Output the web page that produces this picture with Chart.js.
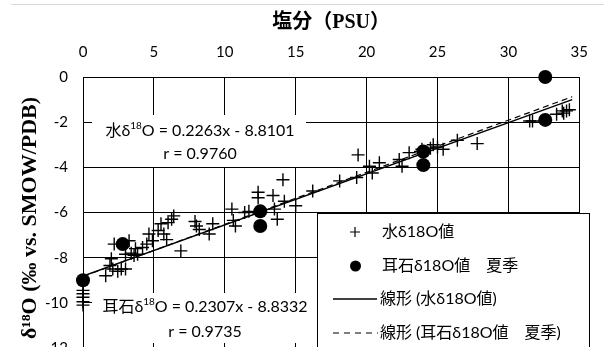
<!DOCTYPE html>
<html><head><meta charset="utf-8">
<script src="https://cdn.jsdelivr.net/npm/chart.js@4/dist/chart.umd.min.js"></script>
<style>
html,body{margin:0;padding:0;background:#fff;overflow:hidden;width:604px;height:347px}
#wrap{position:relative;width:604px;height:372px}
</style></head>
<body><div id="wrap"><canvas id="c" width="604" height="372"></canvas></div>
<script>
// ---- data ----
const waterSalinity = [0,0,0,0,0,
  1.6,1.9,2.0,2.1,2.2,2.45,2.7,3.0,3.25,3.0,3.4,3.6,3.85,3.7,4.2,4.5,4.65,4.9,5.3,5.5,5.7,5.9,6.0,6.25,6.4,6.9,
  7.9,8.0,8.2,8.9,9.15,10.5,10.6,10.75,11.4,11.7,12.35,12.35,13.4,13.5,13.7,14.1,14.2,15.0,16.2,
  18.1,19.3,19.4,20.2,20.4,20.9,22.3,22.5,23.0,23.8,23.9,24.5,24.7,25.0,25.4,26.4,27.8,
  31.5,31.7,33.4,33.8,34.1,34.3,33.9];
const waterD18O = [-9.45,-9.6,-9.75,-9.95,-10.1,
  -8.8,-8.35,-8.05,-8.5,-7.4,-8.6,-8.5,-8.5,-7.25,-7.85,-7.8,-7.9,-7.85,-7.6,-7.55,-7.4,-6.95,-7.25,-6.8,-6.5,-6.95,-7.2,-6.45,-6.3,-6.15,-7.7,
  -6.4,-6.6,-6.75,-6.95,-6.5,-5.85,-6.35,-6.6,-6.0,-5.95,-5.1,-5.35,-5.25,-5.85,-6.3,-4.55,-5.5,-5.7,-5.05,
  -4.6,-4.45,-3.45,-3.95,-4.25,-3.8,-3.65,-3.95,-3.35,-3.3,-3.2,-3.15,-3.0,-3.1,-3.2,-2.8,-2.95,
  -1.95,-1.95,-1.65,-1.5,-1.5,-1.45,-1.6];
const otolithSalinity = [0, 2.8, 12.5, 12.5, 24.0, 24.0, 32.6, 32.6];
const otolithD18O = [-9.0, -7.4, -5.95, -6.6, -3.3, -3.9, 0.0, -1.9];
const xTickValues = [0,5,10,15,20,25,30,35];
const yTickValues = [0,-2,-4,-6,-8,-10,-12];
const seriesNames = ['水δ18O値', '耳石δ18O値　夏季'];
const trendNames = ['線形 (水δ18O値)', '線形 (耳石δ18O値　夏季)'];
const trendPrefix = ['水', '耳石'];
const trendSlope = [0.2263, 0.2307];
const trendIntercept = [-8.8101, -8.8332];
const trendR = [0.9760, 0.9735];
const trendRange = [0, 34.5];
const xTitle = '塩分（PSU）';
const yTitle = 'δ¹⁸O (‰ vs. SMOW/PDB)';

const SANS = "Lato, 'Noto Sans CJK JP', sans-serif";
const SERIF = "'Liberation Serif', 'DejaVu Serif', 'Noto Sans CJK JP', serif";

const water = waterSalinity.map((x,i)=>({x, y: waterD18O[i]}));
const otolith = otolithSalinity.map((x,i)=>({x, y: otolithD18O[i]}));
const trendLine = k => trendRange.map(x=>({x, y: trendSlope[k]*x + trendIntercept[k]}));

function drawRich(ctx, parts, cx, cy, size) {
  const f = `${size}px ${SANS}`, fs = `${Math.round(size*0.62)}px ${SANS}`;
  let w = 0;
  parts.forEach(p => { ctx.font = p.sup ? fs : f; w += ctx.measureText(p.t).width; });
  let x = cx - w/2;
  ctx.textAlign = 'left'; ctx.textBaseline = 'middle'; ctx.fillStyle = '#000';
  parts.forEach(p => { ctx.font = p.sup ? fs : f; ctx.fillText(p.t, x, p.sup ? cy - size*0.3 : cy); x += ctx.measureText(p.t).width; });
}

const overlay = {
  id: 'overlay',
  beforeDraw(chart) {
    const ctx = chart.ctx;
    ctx.save();
    ctx.strokeStyle = '#d9d9d9'; ctx.lineWidth = 1;
    ctx.beginPath(); ctx.moveTo(11, 4.5); ctx.lineTo(604, 4.5); ctx.stroke();
    ctx.restore();
  },
  afterDatasetsDraw(chart) {
    const ctx = chart.ctx;
    ctx.save();
    // y axis title
    ctx.translate(30, 218);
    ctx.rotate(-Math.PI/2);
    ctx.font = `bold 22px ${SERIF}`; ctx.fillStyle = '#000';
    ctx.textAlign = 'center'; ctx.textBaseline = 'middle';
    ctx.fillText(yTitle, 0, 0);
    ctx.restore();
    ctx.save();
    // regression labels
    const boxes = [
      {x1:92, y1:115, x2:306, y2:167, cx:200, cy1:131, cy2:154},
      {x1:92, y1:293, x2:318, y2:343, cx:205, cy1:307, cy2:332}
    ];
    boxes.forEach((b,k) => {
      ctx.fillStyle = '#fff';
      ctx.fillRect(b.x1, b.y1, b.x2-b.x1, b.y2-b.y1);
      const eq = `O = ${trendSlope[k].toFixed(4)}x - ${Math.abs(trendIntercept[k]).toFixed(4)}`;
      drawRich(ctx, [{t: trendPrefix[k] + 'δ'}, {t:'18', sup:true}, {t: eq}], b.cx, b.cy1, 16);
      drawRich(ctx, [{t: `r = ${trendR[k].toFixed(4)}`}], b.cx, b.cy2, 16);
    });
    // legend
    const L = 317.5, T = 213.5, R = 589.5, B = 400;
    ctx.fillStyle = '#fff';
    ctx.fillRect(L, T, R-L, B-T);
    ctx.strokeStyle = '#000'; ctx.lineWidth = 1;
    ctx.strokeRect(L, T, R-L, B-T);
    const rows = [232, 266, 299, 333];
    const labels = [seriesNames[0], seriesNames[1], trendNames[0], trendNames[1]];
    ctx.strokeStyle = '#000'; ctx.fillStyle = '#000';
    ctx.lineWidth = 1.2;
    ctx.beginPath(); ctx.moveTo(350, rows[0]); ctx.lineTo(360, rows[0]); ctx.moveTo(355, rows[0]-5); ctx.lineTo(355, rows[0]+5); ctx.stroke();
    ctx.beginPath(); ctx.arc(355.5, rows[1], 5.5, 0, Math.PI*2); ctx.fill();
    ctx.lineWidth = 1.5;
    ctx.beginPath(); ctx.moveTo(333, rows[2]); ctx.lineTo(377, rows[2]); ctx.stroke();
    ctx.lineWidth = 1.2; ctx.setLineDash([6,5]);
    ctx.beginPath(); ctx.moveTo(333, rows[3]); ctx.lineTo(378, rows[3]); ctx.stroke();
    ctx.setLineDash([]);
    ctx.font = `16px ${SANS}`; ctx.textAlign = 'left'; ctx.textBaseline = 'middle';
    labels.forEach((t,i) => ctx.fillText(t, i < 2 ? 382 : 380, rows[i]));
    ctx.restore();
  }
};

new Chart(document.getElementById('c'), {
  type: 'scatter',
  data: { datasets: [
    {label: seriesNames[1], data: otolith, pointStyle:'circle', pointRadius:7, pointHoverRadius:7,
     backgroundColor:'#000', borderColor:'#000', borderWidth:0, order:0, clip:false},
    {type:'line', label: trendNames[0], data: trendLine(0), borderColor:'#000', borderWidth:1.5,
     pointRadius:0, fill:false, order:1},
    {type:'line', label: trendNames[1], data: trendLine(1), borderColor:'#000', borderWidth:1.2,
     borderDash:[6,4], pointRadius:0, fill:false, order:1},
    {label: seriesNames[0], data: water, pointStyle:'cross', pointRadius:6.5, pointHoverRadius:6.5,
     borderColor:'#000', backgroundColor:'#000', borderWidth:1.4, order:2, clip:false}
  ]},
  options: {
    responsive:false, animation:false, devicePixelRatio:1,
    layout:{padding:{left:0, top:0, right:15, bottom:23}},
    plugins:{legend:{display:false}, tooltip:{enabled:false}},
    scales:{
      x:{type:'linear', position:'top', min:0, max:35,
         afterBuildTicks: s => { s.ticks = xTickValues.map(v=>({value:v})); },
         afterFit: s => { s.height = 77; },
         grid:{color:'#000', lineWidth:1, drawTicks:false},
         border:{color:'#000', width:1},
         ticks:{padding:16, color:'#000', font:{family:SANS, size:15}},
         title:{display:true, text:xTitle, color:'#000', padding:{top:11, bottom:0},
                font:{family:SERIF, size:20, weight:'bold'}}},
      y:{type:'linear', min:-12, max:0,
         afterBuildTicks: s => { s.ticks = yTickValues.map(v=>({value:v})); },
         afterFit: s => { s.width = 83; },
         grid:{color:'#000', lineWidth:1, drawTicks:false},
         border:{color:'#000', width:1},
         ticks:{padding:15, color:'#000', font:{family:SANS, size:15}},
         title:{display:false}}
    }
  },
  plugins:[overlay]
});
</script>
</body></html>
